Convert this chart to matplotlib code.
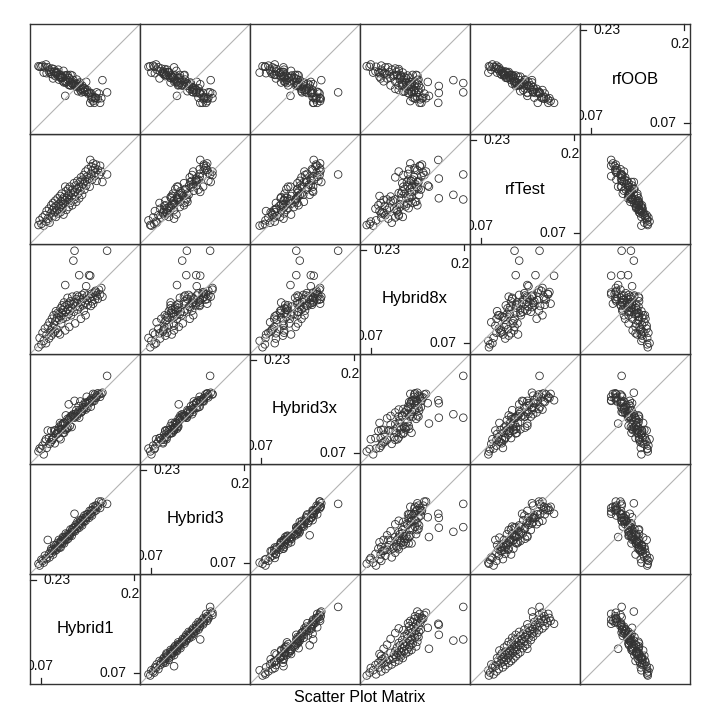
import matplotlib
matplotlib.use("Agg")
import matplotlib.pyplot as plt

plt.rcParams['font.family'] = ['Liberation Sans', 'DejaVu Sans']

# values (one entry per test set)
hybrid1 = [0.066, 0.068, 0.071, 0.073, 0.075, 0.077, 0.079, 0.080, 0.082, 0.084,
           0.085, 0.087, 0.088, 0.089, 0.090, 0.091, 0.092, 0.093, 0.094, 0.095,
           0.096, 0.097, 0.098, 0.099, 0.100, 0.101, 0.102, 0.103, 0.104, 0.104,
           0.105, 0.106, 0.107, 0.108, 0.108, 0.109, 0.110, 0.111, 0.112, 0.112,
           0.113, 0.114, 0.115, 0.116, 0.117, 0.118, 0.118, 0.119, 0.120, 0.121,
           0.122, 0.123, 0.124, 0.125, 0.126, 0.127, 0.128, 0.128, 0.129, 0.130,
           0.131, 0.132, 0.133, 0.134, 0.135, 0.136, 0.137, 0.138, 0.139, 0.140,
           0.141, 0.142, 0.143, 0.144, 0.145, 0.146, 0.147, 0.148, 0.149, 0.150,
           0.151, 0.153, 0.154, 0.155, 0.156, 0.157, 0.158, 0.159, 0.160, 0.162,
           0.163, 0.164, 0.165, 0.166, 0.168, 0.170, 0.172, 0.174, 0.176, 0.184]
hybrid3 = [0.069, 0.066, 0.076, 0.074, 0.071, 0.083, 0.079, 0.077, 0.110, 0.086,
           0.080, 0.091, 0.095, 0.088, 0.093, 0.085, 0.094, 0.101, 0.091, 0.095,
           0.101, 0.093, 0.099, 0.105, 0.098, 0.110, 0.097, 0.106, 0.104, 0.097,
           0.109, 0.108, 0.104, 0.115, 0.107, 0.114, 0.104, 0.112, 0.115, 0.110,
           0.121, 0.110, 0.115, 0.120, 0.112, 0.120, 0.118, 0.118, 0.117, 0.128,
           0.123, 0.117, 0.127, 0.130, 0.124, 0.127, 0.132, 0.155, 0.125, 0.136,
           0.133, 0.129, 0.141, 0.133, 0.139, 0.131, 0.138, 0.144, 0.137, 0.143,
           0.135, 0.147, 0.143, 0.141, 0.152, 0.148, 0.143, 0.149, 0.154, 0.149,
           0.154, 0.148, 0.160, 0.155, 0.154, 0.161, 0.152, 0.161, 0.167, 0.159,
           0.164, 0.169, 0.161, 0.169, 0.167, 0.176, 0.165, 0.176, 0.173, 0.172]
hybrid3x = [0.073, 0.078, 0.077, 0.083, 0.068, 0.090, 0.094, 0.079, 0.109, 0.096,
            0.086, 0.089, 0.108, 0.093, 0.093, 0.096, 0.097, 0.109, 0.087, 0.109,
            0.103, 0.102, 0.105, 0.104, 0.110, 0.114, 0.097, 0.122, 0.111, 0.094,
            0.119, 0.111, 0.117, 0.120, 0.105, 0.122, 0.105, 0.123, 0.121, 0.110,
            0.135, 0.114, 0.112, 0.129, 0.114, 0.127, 0.154, 0.130, 0.117, 0.133,
            0.133, 0.115, 0.135, 0.133, 0.137, 0.133, 0.131, 0.160, 0.134, 0.138,
            0.144, 0.133, 0.137, 0.140, 0.151, 0.131, 0.144, 0.159, 0.140, 0.141,
            0.143, 0.148, 0.153, 0.146, 0.149, 0.157, 0.145, 0.156, 0.167, 0.148,
            0.158, 0.156, 0.160, 0.161, 0.150, 0.164, 0.161, 0.159, 0.172, 0.160,
            0.171, 0.166, 0.165, 0.169, 0.173, 0.171, 0.167, 0.172, 0.174, 0.203]
hybrid8x = [0.063, 0.079, 0.068, 0.088, 0.074, 0.095, 0.070, 0.085, 0.100, 0.078,
            0.106, 0.092, 0.083, 0.112, 0.098, 0.087, 0.118, 0.102, 0.090, 0.108,
            0.125, 0.094, 0.114, 0.122, 0.088, 0.120, 0.110, 0.085, 0.130, 0.116,
            0.104, 0.122, 0.135, 0.112, 0.127, 0.118, 0.140, 0.133, 0.170, 0.092,
            0.124, 0.115, 0.136, 0.148, 0.128, 0.120, 0.138, 0.098, 0.126, 0.142,
            0.118, 0.131, 0.150, 0.137, 0.212, 0.124, 0.229, 0.140, 0.104, 0.133,
            0.146, 0.152, 0.139, 0.128, 0.150, 0.187, 0.132, 0.145, 0.112, 0.141,
            0.153, 0.135, 0.147, 0.126, 0.156, 0.139, 0.118, 0.168, 0.144, 0.152,
            0.136, 0.187, 0.148, 0.186, 0.134, 0.155, 0.142, 0.150, 0.138, 0.157,
            0.145, 0.160, 0.158, 0.152, 0.146, 0.162, 0.154, 0.165, 0.150, 0.229]
rf_test = [0.084, 0.092, 0.086, 0.097, 0.083, 0.101, 0.090, 0.108, 0.095, 0.112,
           0.088, 0.104, 0.118, 0.097, 0.110, 0.122, 0.100, 0.114, 0.106, 0.126,
           0.098, 0.117, 0.109, 0.130, 0.104, 0.120, 0.112, 0.134, 0.116, 0.106,
           0.125, 0.138, 0.113, 0.128, 0.119, 0.102, 0.132, 0.121, 0.150, 0.127,
           0.142, 0.110, 0.131, 0.124, 0.146, 0.115, 0.136, 0.128, 0.150, 0.122,
           0.139, 0.131, 0.118, 0.145, 0.136, 0.156, 0.128, 0.141, 0.133, 0.152,
           0.124, 0.146, 0.160, 0.138, 0.149, 0.130, 0.158, 0.143, 0.166, 0.150,
           0.136, 0.162, 0.154, 0.170, 0.145, 0.160, 0.176, 0.152, 0.167, 0.158,
           0.180, 0.164, 0.150, 0.196, 0.172, 0.185, 0.162, 0.178, 0.190, 0.168,
           0.182, 0.174, 0.188, 0.160, 0.179, 0.170, 0.186, 0.176, 0.158, 0.171]
rf_oob = [0.168, 0.167, 0.167, 0.169, 0.157, 0.166, 0.171, 0.156, 0.166, 0.159,
          0.162, 0.155, 0.158, 0.164, 0.154, 0.147, 0.163, 0.158, 0.159, 0.151,
          0.157, 0.156, 0.158, 0.152, 0.162, 0.145, 0.153, 0.150, 0.148, 0.153,
          0.148, 0.150, 0.148, 0.142, 0.149, 0.160, 0.140, 0.152, 0.117, 0.142,
          0.140, 0.152, 0.141, 0.153, 0.144, 0.148, 0.136, 0.147, 0.135, 0.153,
          0.135, 0.139, 0.152, 0.137, 0.144, 0.135, 0.139, 0.137, 0.135, 0.134,
          0.138, 0.145, 0.132, 0.125, 0.138, 0.134, 0.140, 0.127, 0.129, 0.123,
          0.135, 0.128, 0.131, 0.124, 0.130, 0.124, 0.127, 0.141, 0.124, 0.127,
          0.121, 0.122, 0.122, 0.105, 0.122, 0.111, 0.114, 0.115, 0.108, 0.105,
          0.114, 0.114, 0.113, 0.123, 0.112, 0.121, 0.105, 0.113, 0.144, 0.123]

names = ["Hybrid1", "Hybrid3", "Hybrid3x", "Hybrid8x", "rfTest", "rfOOB"]
data = [hybrid1, hybrid3, hybrid3x, hybrid8x, rf_test, rf_oob]
lims = (0.0514, 0.2406)
tick_lo, tick_hi = 0.07, 0.23

fig = plt.figure(figsize=(7.2, 7.2), dpi=100)
n = len(names)
left, bottom, size = 30 / 720, 36 / 720, 660 / 720
w = size / n
tl = 0.011   # tick length in data units
gap = 0.012

for r in range(n):          # r = 0 is the bottom row
    for c in range(n):
        ax = fig.add_axes([left + c * w, bottom + r * w, w, w])
        ax.set_xlim(lims)
        ax.set_ylim(lims)
        ax.set_xticks([])
        ax.set_yticks([])
        for s in ax.spines.values():
            s.set_linewidth(1.0)
            s.set_color('#333333')
        if r == c:
            ax.text(0.5, 0.5, names[c], ha='center', va='center',
                    fontsize=12, transform=ax.transAxes)
            k = dict(color='#222222', lw=0.9, clip_on=False)
            tk = dict(fontsize=10, color='#111111', clip_on=True)
            # top-left y tick
            ax.plot([lims[0], lims[0] + tl], [tick_hi, tick_hi], **k)
            ax.text(lims[0] + tl + gap, tick_hi, "0.23", ha='left', va='center', **tk)
            # top-right x tick
            ax.plot([tick_hi, tick_hi], [lims[1], lims[1] - tl], **k)
            ax.text(tick_hi, lims[1] - tl - gap, "0.23", ha='center', va='top', **tk)
            # bottom-left x tick
            ax.plot([tick_lo, tick_lo], [lims[0], lims[0] + tl], **k)
            ax.text(tick_lo - 0.002, lims[0] + tl + gap * 0.6, "0.07", ha='center', va='bottom', **tk)
            # bottom-right y tick
            ax.plot([lims[1], lims[1] - tl], [tick_lo, tick_lo], **k)
            ax.text(lims[1] - tl - gap, tick_lo, "0.07", ha='right', va='center', **tk)
        else:
            ax.plot(lims, lims, color='#b3b3b3', lw=0.8)
            ax.scatter(data[c], data[r], s=30, facecolors='none',
                       edgecolors='#333333', linewidths=0.6)

fig.text(0.5, 1 - 697 / 720, "Scatter Plot Matrix", ha='center', va='center', fontsize=11.5)

fig.savefig("out.png", dpi=100, facecolor='white')
